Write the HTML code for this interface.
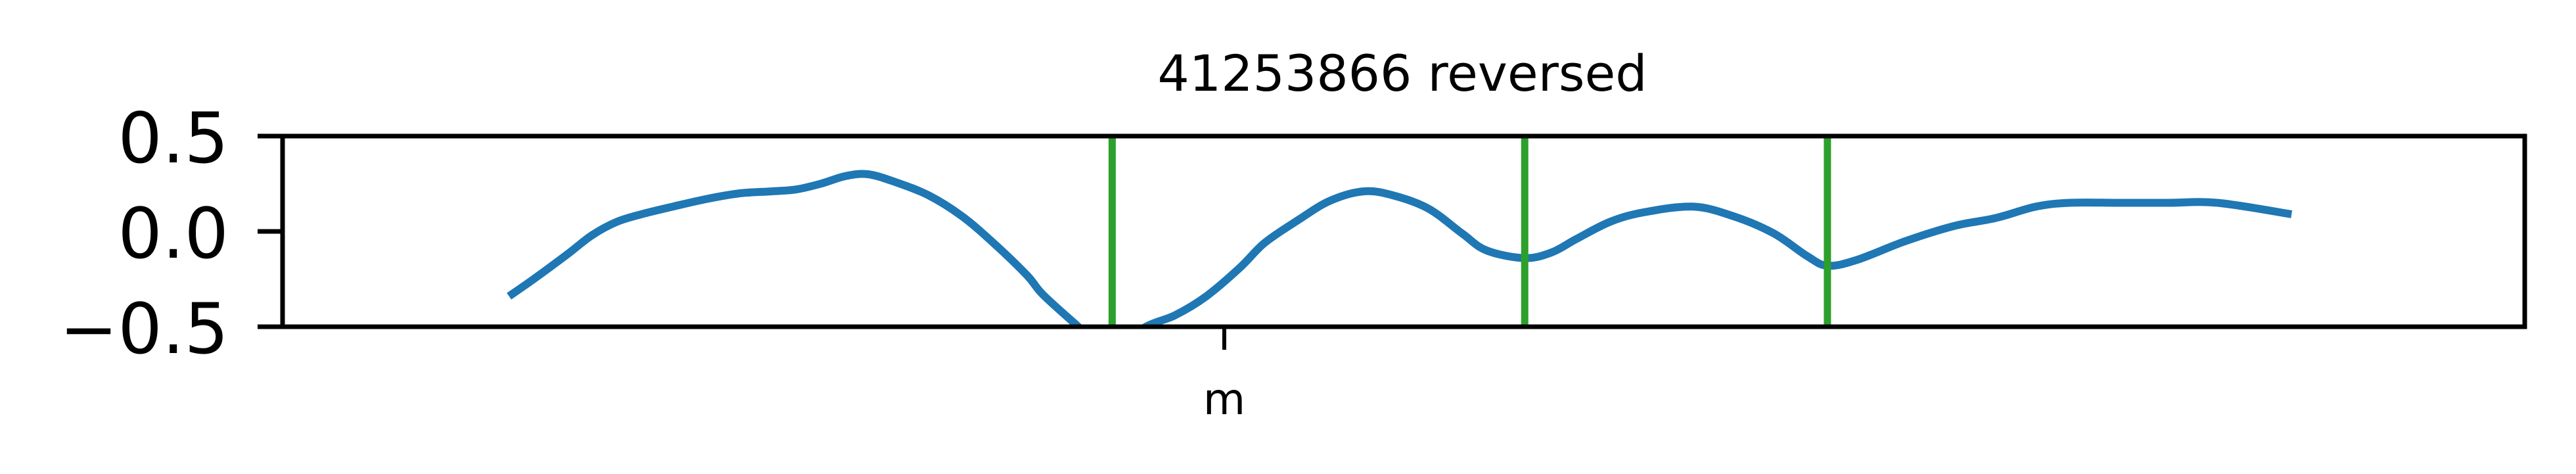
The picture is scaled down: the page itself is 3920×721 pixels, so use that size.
<!DOCTYPE html>
<html><head><meta charset="utf-8"><style>
html,body{margin:0;padding:0;background:#fff;}
svg{display:block;}
text{font-family:"DejaVu Sans","Liberation Sans",sans-serif;fill:#000;}
</style></head><body>
<svg id="chart" width="3920" height="721" viewBox="0 0 3920 721">
<defs><clipPath id="clip"><rect x="430" y="207" width="3412" height="290"/></clipPath></defs>
<text x="2134" y="138" font-size="76" text-anchor="middle">41253866 reversed</text>
<g id="plot" clip-path="url(#clip)"></g>
<g id="axes"></g>
</svg>
<script>
const xs = [10.1,11.2,12.7,13.8,14.9,16.0,17.4,18.9,20.4,21.8,22.9,24.0,25.1,26.1,27.3,28.8,30.3,31.7,33.2,33.9,35.4,36.8,38.5,39.8,41.2,42.7,43.8,45.3,46.7,48.2,49.5,51.1,52.6,53.7,55.4,56.6,57.7,59.2,60.7,62.9,64.7,66.5,68.0,68.9,70.2,72.4,74.6,76.4,78.2,79.7,81.9,84.1,86.3,89.6];
const ys = [-0.34,-0.25,-0.12,-0.02,0.05,0.09,0.13,0.17,0.20,0.21,0.22,0.25,0.29,0.30,0.26,0.19,0.08,-0.06,-0.23,-0.33,-0.49,-0.63,-0.50,-0.44,-0.34,-0.19,-0.06,0.06,0.16,0.21,0.19,0.12,-0.01,-0.10,-0.14,-0.11,-0.04,0.05,0.10,0.13,0.08,-0.01,-0.13,-0.18,-0.15,-0.05,0.03,0.07,0.13,0.15,0.15,0.15,0.15,0.09];
const markers = [37.0,55.4,68.9];
const yTicks = [0.5,0.0,-0.5];
const yTickLabels = ["0.5","0.0","\u22120.5"];
const xTicks = [42.0];
const xTickLabels = ["m"];

const L=430,R=3842,T=207,B=497;
const X = v => L + (v/100)*(R-L);
const Y = v => T + (0.5 - v)/1.0*(B-T);
const NS="http://www.w3.org/2000/svg";
const plot=document.getElementById('plot'), axes=document.getElementById('axes');
function mk(tag,attrs,parent){const e=document.createElementNS(NS,tag);for(const k in attrs)e.setAttribute(k,attrs[k]);parent.appendChild(e);return e;}

let pts=xs.map((x,i)=>[X(x),Y(ys[i])]);
let d=`M${pts[0][0]},${pts[0][1]}`;
for(let i=0;i<pts.length-1;i++){
  const p0=pts[Math.max(0,i-1)],p1=pts[i],p2=pts[i+1],p3=pts[Math.min(pts.length-1,i+2)];
  const c1=[p1[0]+(p2[0]-p0[0])/6,p1[1]+(p2[1]-p0[1])/6];
  const c2=[p2[0]-(p3[0]-p1[0])/6,p2[1]-(p3[1]-p1[1])/6];
  d+=` C${c1[0]},${c1[1]} ${c2[0]},${c2[1]} ${p2[0]},${p2[1]}`;
}
const line=mk('path',{d:d,fill:'none',stroke:'#1f77b4','stroke-width':12,'stroke-linejoin':'round'},plot);



markers.forEach((m,i)=>{
  const v=mk('line',{x1:X(m),x2:X(m),y1:T,y2:B,stroke:'#2ca02c','stroke-width':11},plot);
  
  
});

const frame=mk('rect',{x:L,y:T,width:R-L,height:B-T,fill:'none',stroke:'#000','stroke-width':7},axes);



yTicks.forEach((t,i)=>{
  const tk=mk('line',{x1:L-38,x2:L,y1:Y(t),y2:Y(t),stroke:'#000','stroke-width':7},axes);
  
  
  const lb=mk('text',{x:L-82,y:Y(t)+40,'font-size':106,'text-anchor':'end'},axes);
  lb.textContent=yTickLabels[i];
  
  
});
xTicks.forEach((t,i)=>{
  const tk=mk('line',{x1:X(t),x2:X(t),y1:B,y2:B+35,stroke:'#000','stroke-width':6},axes);
  
  
  const lb=mk('text',{x:X(t),y:630,'font-size':66,'text-anchor':'middle'},axes);
  lb.textContent=xTickLabels[i];
  
  
});
</script>
</body></html>
